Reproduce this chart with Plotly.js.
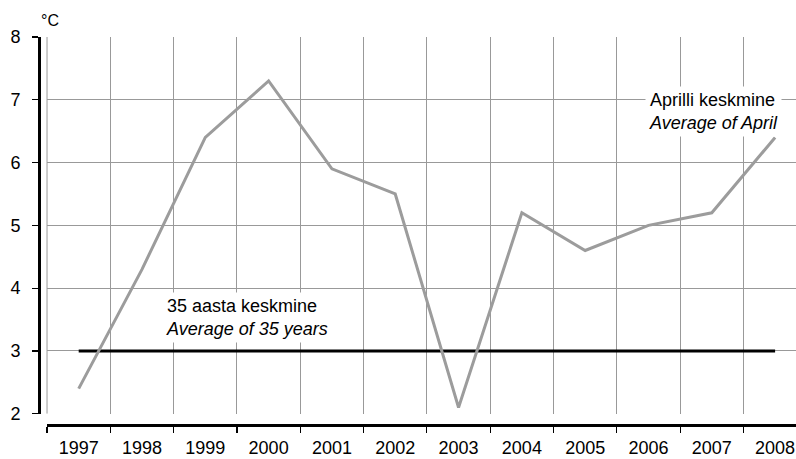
<!DOCTYPE html>
<html><head><meta charset="utf-8">
<script src="https://cdn.plot.ly/plotly-3.0.1.min.js"></script>
<style>html,body{margin:0;padding:0;background:#fff}#c{width:796px;height:459px}</style>
</head><body><div id="c"></div>
<script>
const years = ["1997","1998","1999","2000","2001","2002","2003","2004","2005","2006","2007","2008"];
const aprilAvg = [2.4, 4.3, 6.4, 7.3, 5.9, 5.5, 2.1, 5.2, 4.6, 5.0, 5.2, 6.4];
const longTermAvg = [3, 3, 3, 3, 3, 3, 3, 3, 3, 3, 3, 3];
const yTicks = [2, 3, 4, 5, 6, 7, 8];

const font = {family: "Liberation Sans, Arial, sans-serif", color: "#000"};
const traces = [
  {x: years, y: longTermAvg, type: "scatter", mode: "lines", line: {color: "#000", width: 3}, hoverinfo: "skip"},
  {x: years, y: aprilAvg, type: "scatter", mode: "lines", line: {color: "#9c9c9c", width: 3}, hoverinfo: "skip"}
];
const layout = {
  width: 796, height: 459,
  margin: {l: 39, r: 0, t: 37, b: 34},
  paper_bgcolor: "#fff", plot_bgcolor: "#fff",
  showlegend: false,
  font: Object.assign({size: 18}, font),
  xaxis: {
    type: "category", domain: [0.0106, 1], range: [-0.5, 11.33],
    anchor: "free", position: 0,
    tickson: "boundaries", ticks: "outside", ticklen: 6, tickwidth: 1.2, tickcolor: "#000",
    showgrid: true, gridcolor: "#999", gridwidth: 1,
    showline: true, linecolor: "#000", linewidth: 2.5,
    ticklabelstandoff: 6,
    tickfont: Object.assign({size: 18}, font), zeroline: false
  },
  yaxis: {
    domain: [0.029, 1], range: [2, 8],
    anchor: "free", position: 0,
    tickvals: yTicks, ticktext: yTicks.map(String),
    ticks: "outside", ticklen: 6, tickwidth: 1.2, tickcolor: "#000",
    showgrid: true, gridcolor: "#999", gridwidth: 1,
    showline: true, linecolor: "#000", linewidth: 3,
    ticklabelstandoff: 8,
    tickfont: Object.assign({size: 18}, font), zeroline: false
  },
  shapes: [
    {type: "line", xref: "paper", yref: "y", x0: 0.0106, x1: 0.0106, y0: 2, y1: 8, line: {color: "#999", width: 1}, layer: "below"}
  ],
  annotations: [
    {xref: "paper", yref: "paper", x: 0.0, y: 1.0, yanchor: "bottom", xanchor: "left", yshift: 6, text: "°C", showarrow: false, font: Object.assign({size: 16}, font)},
    {xref: "x", yref: "y", x: 8.94, y: 6.82, xanchor: "left", yanchor: "middle", showarrow: false, bgcolor: "#fff",
     text: "Aprilli keskmine<br><i>Average of April</i>", align: "left", font: Object.assign({size: 18}, font), borderpad: 3},
    {xref: "x", yref: "y", x: 1.32, y: 3.53, xanchor: "left", yanchor: "middle", showarrow: false, bgcolor: "#fff",
     text: "35 aasta keskmine<br><i>Average of 35 years</i>", align: "left", font: Object.assign({size: 18}, font), borderpad: 3}
  ]
};
Plotly.newPlot("c", traces, layout, {staticPlot: true});
</script></body></html>
